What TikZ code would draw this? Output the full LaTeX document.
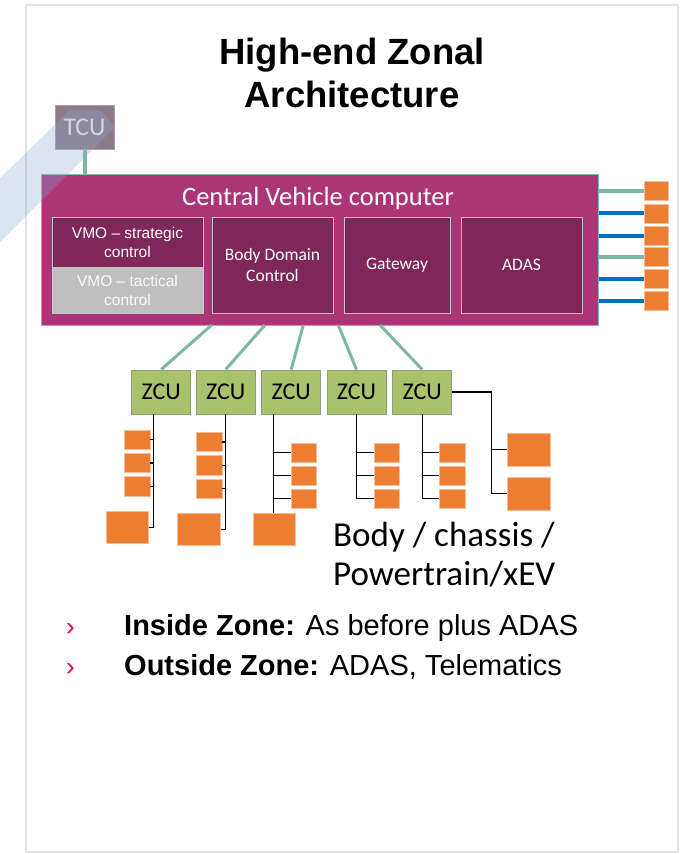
\documentclass[tikz,border=0pt]{standalone}
\usepackage{fontspec}
\setmainfont{Liberation Sans}
\newfontfamily\calib{Carlito}
\usetikzlibrary{calc}
\definecolor{framec}{HTML}{E2E2E2}
\definecolor{cvcfill}{HTML}{AB3577}
\definecolor{cvcedge}{HTML}{8DB8AE}
\definecolor{inpurple}{HTML}{7E2758}
\definecolor{inedge}{HTML}{C9BFC6}
\definecolor{grayfill}{HTML}{BFBFBF}
\definecolor{tcufill}{HTML}{8D7A87}
\definecolor{tcuedge}{HTML}{A6A0A8}
\definecolor{tealc}{HTML}{7DB8A4}
\definecolor{bluec}{HTML}{0070C0}
\definecolor{orangeb}{HTML}{ED7D31}
\definecolor{orangeedge}{HTML}{F6BE98}
\definecolor{zcugreen}{HTML}{ABC26C}
\definecolor{zcuedge}{HTML}{8F9D83}
\definecolor{bandblue}{RGB}{138,172,212}
\definecolor{bulletred}{HTML}{E4032E}
\begin{document}
\begin{tikzpicture}[x=1pt,y=-1pt,
  cvcbox/.style={fill=cvcfill, draw=cvcedge, line width=1pt, inner sep=0},
  inbox/.style={fill=inpurple, draw=inedge, line width=1pt, inner sep=0, text=white, align=center, font=\calib\fontsize{17.5}{21}\selectfont},
  vmobox/.style={draw=inedge, line width=1pt, inner sep=0, text=white, align=center, minimum width=151, font=\fontsize{15.5}{19}\selectfont},
  zcu/.style={fill=zcugreen, draw=zcuedge, line width=1pt, minimum width=59, minimum height=44, inner sep=0, font=\calib\fontsize{24}{28}\selectfont},
  osq/.style={fill=orangeb, draw=orangeedge, line width=0.7pt, inner sep=0},
  smallsq/.style={osq, minimum width=25.5, minimum height=19.3},
  bigsq/.style={osq, minimum width=42.5, minimum height=32},
  rsq/.style={osq, minimum width=24, minimum height=19},
  tealline/.style={draw=tealc, line width=3pt},
  blueline/.style={draw=bluec, line width=4pt},
  tree/.style={draw=black, line width=1.3pt},
]
\useasboundingbox (0,0) rectangle (682,854);
\fill[white] (0,0) rectangle (682,854);
\draw[framec, line width=1.5pt] (26,5) rectangle (678,852);

% title
\node[anchor=base, inner sep=0, font=\bfseries\fontsize{36.5}{43}\selectfont] (t1) at (352,64) {High-end Zonal};
\node[anchor=base, inner sep=0, font=\bfseries\fontsize{36.5}{43}\selectfont] (t2) at (352,107) {Architecture};

% TCU and central computer
\node[fill=tcufill, draw=tcuedge, line width=1pt, minimum width=59, minimum height=44, inner sep=0,
      text=white!92!black, font=\calib\fontsize{25.5}{30}\selectfont] (tcu) at (84.5,127) {TCU};
\node[cvcbox, minimum width=557, minimum height=151] (cvc) at (319.5,249.5) {};
\draw[tealline, line width=4pt] (tcu.south) -- (tcu.south |- cvc.north);
\node[anchor=base, inner sep=0, text=white, font=\calib\fontsize{26.5}{31}\selectfont] (cvct) at (318,205) {Central Vehicle computer};

\node[vmobox, fill=inpurple, minimum height=50] (vmo1) at (127.5,242) {VMO -- strategic\\control};
\node[vmobox, fill=grayfill, minimum height=46, text=white!96!gray] (vmo2) at (127.5,290) {VMO -- tactical\\control};
\node[inbox, minimum width=121, minimum height=96] (bdc) at (272.5,265) {Body Domain\\Control};
\node[inbox, minimum width=106, minimum height=96] (gw) at (397,265) {Gateway};
\node[inbox, minimum width=121, minimum height=96] (adas) at (521.5,265) {ADAS};

% right side connectors
\node[rsq] (r1) at (656,191) {};
\node[rsq] (r2) at (656,213.4) {};
\node[rsq] (r3) at (656,235.5) {};
\node[rsq] (r4) at (656,257) {};
\node[rsq] (r5) at (656,279) {};
\node[rsq] (r6) at (656,301) {};
\draw[tealline, line width=4pt] (cvc.east |- r1) -- (r1.west);
\draw[blueline] (cvc.east |- r2) -- (r2.west);
\draw[blueline] (cvc.east |- r3) -- (r3.west);
\draw[tealline, line width=4pt] (cvc.east |- r4) -- (r4.west);
\draw[blueline] (cvc.east |- r5) -- (r5.west);
\draw[blueline] (cvc.east |- r6) -- (r6.west);

% ZCUs
\node[zcu] (z1) at (161.2,392) {ZCU};
\node[zcu] (z2) at (225.7,392) {ZCU};
\node[zcu] (z3) at (291.2,392) {ZCU};
\node[zcu] (z4) at (356.5,392) {ZCU};
\node[zcu] (z5) at (422.2,392) {ZCU};
\coordinate (c1) at (211.7,325);
\coordinate (c2) at (265,325);
\coordinate (c3) at (303.3,325);
\coordinate (c4) at (338.3,325);
\coordinate (c5) at (380,325);
\draw[tealline] (c1) -- (z1.north);
\draw[tealline] (c2) -- (z2.north);
\draw[tealline] (c3) -- (z3.north);
\draw[tealline] (c4) -- (z4.north);
\draw[tealline] (c5) -- (z5.north);

% zone 1
\coordinate (v1) at (153.3,414);
\node[smallsq] (a11) at (137.2,439.5) {};
\node[smallsq] (a12) at (137.2,463) {};
\node[smallsq] (a13) at (137.2,486.2) {};
\node[bigsq] (A1) at (127.2,527.5) {};
\draw[tree] (v1) -- (v1 |- A1);
\foreach \s in {a11,a12,a13,A1} \draw[tree] (\s.east) -- (\s.east -| v1);

% zone 2
\coordinate (v2) at (225.7,414);
\node[smallsq] (a21) at (209.2,442) {};
\node[smallsq] (a22) at (209.2,465.3) {};
\node[smallsq] (a23) at (209.2,488.7) {};
\node[bigsq] (A2) at (199,529.3) {};
\draw[tree] (v2) -- (v2 |- A2);
\foreach \s in {a21,a22,a23,A2} \draw[tree] (\s.east) -- (\s.east -| v2);

% zone 3
\coordinate (v3) at (273.7,414);
\node[smallsq] (a31) at (303.8,452.5) {};
\node[smallsq] (a32) at (303.8,475.5) {};
\node[smallsq] (a33) at (303.8,498.7) {};
\node[bigsq] (A3) at (274.3,529.3) {};
\draw[tree] (v3) -- (v3 |- A3.north);
\foreach \s in {a31,a32,a33} \draw[tree] (\s.west -| v3) -- (\s.west);

% zone 4
\coordinate (v4) at (356.7,414);
\node[smallsq] (a41) at (386.7,452.5) {};
\node[smallsq] (a42) at (386.7,475.5) {};
\node[smallsq] (a43) at (386.7,498.7) {};
\draw[tree] (v4) -- (v4 |- a43);
\foreach \s in {a41,a42,a43} \draw[tree] (\s.west -| v4) -- (\s.west);

% zone 5
\coordinate (v5) at (422.7,414);
\node[smallsq] (a51) at (452.2,452.5) {};
\node[smallsq] (a52) at (452.2,475.5) {};
\node[smallsq] (a53) at (452.2,498.7) {};
\draw[tree] (v5) -- (v5 |- a53);
\foreach \s in {a51,a52,a53} \draw[tree] (\s.west -| v5) -- (\s.west);

% zone 5 outside branch
\coordinate (vr) at (491.7,392);
\node[bigsq, minimum height=32.5] (B1) at (528.7,449.7) {};
\node[bigsq, minimum height=32.5] (B2) at (528.7,493.8) {};
\draw[tree] (z5.east) -- (vr) -- (vr |- B2);
\foreach \s in {B1,B2} \draw[tree] (\s.west -| vr) -- (\s.west);

% labels
\node[anchor=base west, inner sep=0, font=\calib\fontsize{35}{40}\selectfont] (lb1) at (333,546) {Body / chassis /};
\node[anchor=base west, inner sep=0, font=\calib\fontsize{35}{40}\selectfont] (lb2) at (333,585) {Powertrain/xEV};

\node[anchor=base west, inner sep=0, text=bulletred, font=\fontsize{26}{30}\selectfont] (bu1) at (66,635) {›};
\node[anchor=base west, inner sep=0, text=bulletred, font=\fontsize{26}{30}\selectfont] (bu2) at (66,675) {›};
\node[anchor=base west, inner sep=0, font=\fontsize{29}{34}\selectfont] (bt1) at (124,635) {\textbf{Inside Zone:} As before plus ADAS};
\node[anchor=base west, inner sep=0, font=\fontsize{29}{34}\selectfont] (bt2) at (124,675) {\textbf{Outside Zone:} ADAS, Telematics};

% translucent band
\fill[bandblue, opacity=0.3] (0,178) -- (70,110) -- (100,110) -- (115,127) -- (0,242) -- cycle;
\end{tikzpicture}
\end{document}
